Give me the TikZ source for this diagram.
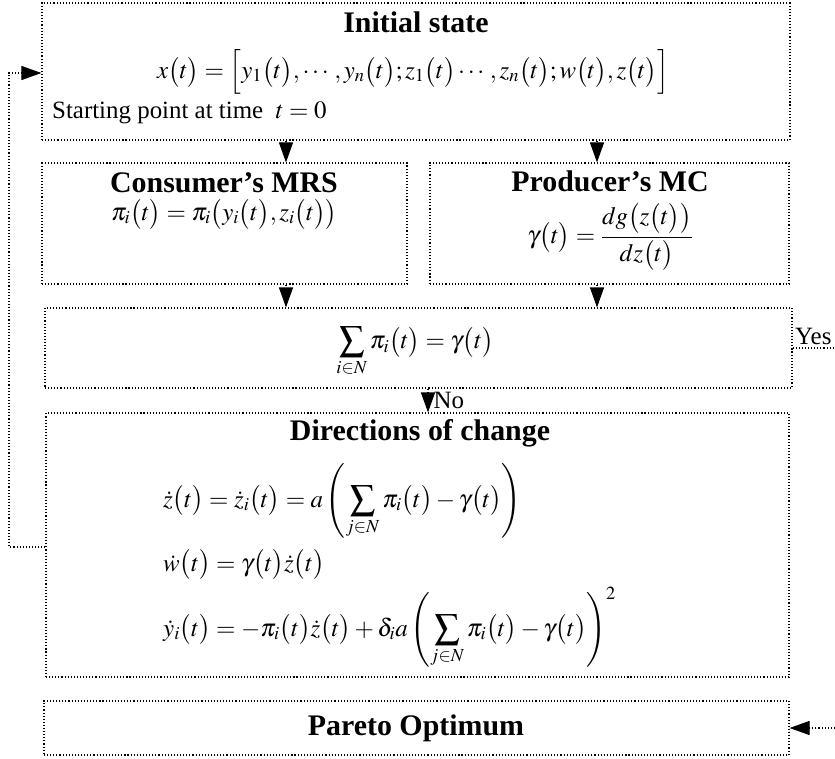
\documentclass[tikz,border=0pt]{standalone}
\usepackage{amsmath}
\usepackage{mathptmx}
\usepackage{fontspec}
\setmainfont{Liberation Serif}
\usetikzlibrary{arrows.meta}
\tikzset{
  box/.style={draw, dotted, line width=1.1bp, inner sep=0pt},
  arr/.style={dotted, line width=1.1bp, -{Triangle[length=20bp,width=14bp]}},
  conn/.style={dotted, line width=1.1bp},
  ttl/.style={inner sep=0pt, font=\fontsize{30}{34}\selectfont\bfseries},
  txt/.style={inner sep=0pt, font=\fontsize{25}{30}\selectfont},
}
\begin{document}
\begin{tikzpicture}[x=1bp,y=-1bp]
\useasboundingbox (0,0) rectangle (835,759);
% boxes
\node[box, minimum width=748bp, minimum height=137bp] (init) at (416,71.5) {};
\node[box, minimum width=365bp, minimum height=121bp] (mrs) at (224.5,223.5) {};
\node[box, minimum width=359bp, minimum height=121bp] (mc) at (609.5,223.5) {};
\node[box, minimum width=747bp, minimum height=80bp] (sum) at (418.5,348) {};
\node[box, minimum width=743bp, minimum height=264bp] (dir) at (417.5,545) {};
\node[box, minimum width=745bp, minimum height=54bp] (par) at (416.5,728) {};
% texts
\node[ttl] (t1) at (416,22) {Initial state};
\node[txt] (f1) at (413,72) {$x\bigl(t\bigr)=\Bigl[y_1\bigl(t\bigr),\cdots,y_n\bigl(t\bigr);z_1\bigl(t\bigr)\cdots,z_n\bigl(t\bigr);w\bigl(t\bigr),z\bigl(t\bigr)\Bigr]$};
\node[txt, anchor=west] (s1) at (52,113) {Starting point at time \ $t=0$};
\node[ttl] (t2) at (224,183) {Consumer’s MRS};
\node[txt] (f2) at (224,214) {$\pi_i\bigl(t\bigr)=\pi_i\bigl(y_i\bigl(t\bigr),z_i\bigl(t\bigr)\bigr)$};
\node[ttl] (t3) at (610,181) {Producer’s MC};
\node[txt] (f3) at (610,237) {$\gamma\bigl(t\bigr)=\dfrac{dg\bigl(z\bigl(t\bigr)\bigr)}{dz\bigl(t\bigr)}$};
\node[txt] (f4) at (415,352) {$\displaystyle\sum_{i\in N}\pi_i\bigl(t\bigr)=\gamma\bigl(t\bigr)$};
\node[ttl] (t5) at (420,433) {Directions of change};
\node[txt, anchor=base west] (f5) at (163,507) {$\dot z\bigl(t\bigr)=\dot z_i\bigl(t\bigr)=a\left(\displaystyle\sum_{j\in N}\pi_i\bigl(t\bigr)-\gamma\bigl(t\bigr)\right)$};
\node[txt, anchor=base west] (f6) at (163,571) {$\dot w\bigl(t\bigr)=\gamma\bigl(t\bigr)\dot z\bigl(t\bigr)$};
\node[txt, anchor=base west] (f7) at (163,636) {$\dot y_i\bigl(t\bigr)=-\pi_i\bigl(t\bigr)\dot z\bigl(t\bigr)+\delta_i a\left(\displaystyle\sum_{j\in N}\pi_i\bigl(t\bigr)-\gamma\bigl(t\bigr)\right)^{2}$};
\node[ttl] (t6) at (416,728) {Pareto Optimum};
% connectors
\coordinate (xa) at (286,0);
\coordinate (xb) at (597,0);
\coordinate (xc) at (428,0);
\draw[arr] (xa |- init.south) -- (xa |- mrs.north);
\draw[arr] (xb |- init.south) -- (xb |- mc.north);
\draw[arr] (xa |- mrs.south) -- (xa |- sum.north);
\draw[arr] (xb |- mc.south) -- (xb |- sum.north);
\draw[arr] (xc |- sum.south) -- (xc |- dir.north) node[txt, anchor=west, pos=0.5, xshift=5bp] (no) {No};
% loop back
\coordinate (lb) at (9,547);
\coordinate (lt) at (9,73);
\draw[arr] (dir.west |- lb) -- (lb) -- (lt) -- (init.west |- lt);
% yes
\coordinate (ye) at (835,348);
\draw[conn] (sum.east |- ye) -- (ye);
\node[txt, anchor=south west, inner sep=0pt] (yes) at (795,345) {Yes};
% pareto
\coordinate (pe) at (835,728);
\draw[arr] (pe) -- (par.east);
\end{tikzpicture}
\end{document}
